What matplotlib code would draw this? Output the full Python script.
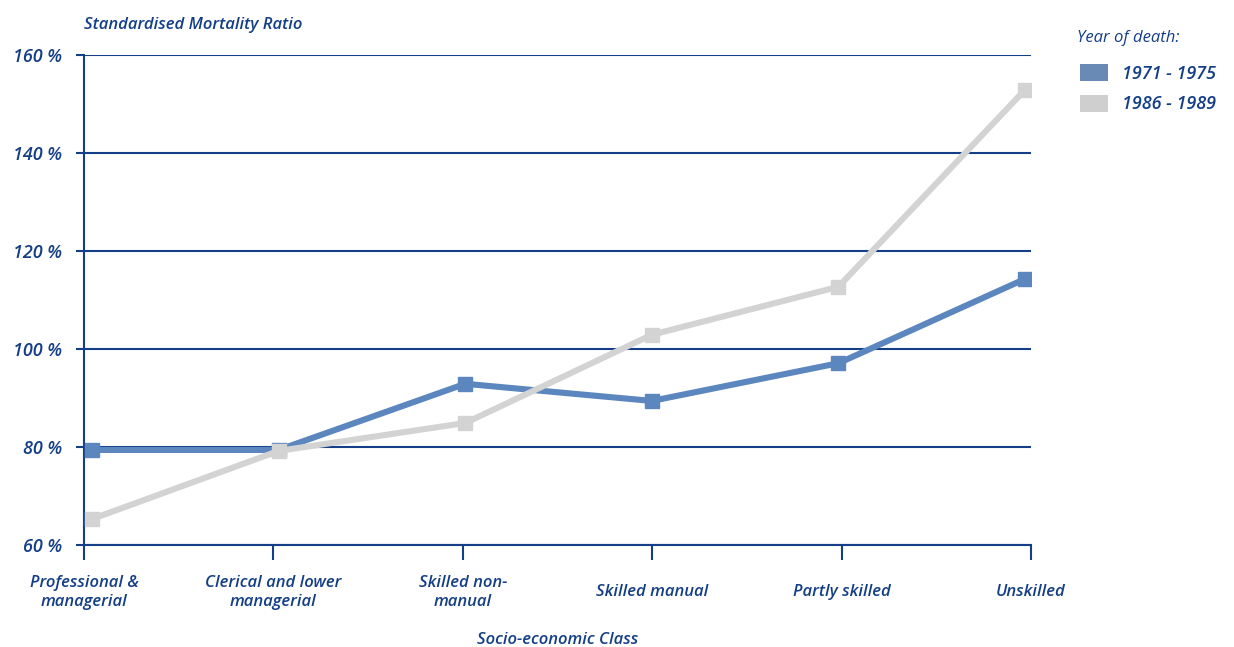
import matplotlib
matplotlib.use("Agg")
import matplotlib.pyplot as plt
from matplotlib.patches import Patch

# socio-economic classes and standardised mortality ratios (%)
classes = [
    "Professional &\nmanagerial",
    "Clerical and lower\nmanagerial",
    "Skilled non-\nmanual",
    "Skilled manual",
    "Partly skilled",
    "Unskilled",
]
smr_1971_1975 = [79.4, 79.4, 92.9, 89.4, 97.1, 114.3]
smr_1986_1989 = [65.3, 79.2, 84.9, 102.9, 112.7, 152.9]
series_labels = ["1971 - 1975", "1986 - 1989"]
y_ticks = [60, 80, 100, 120, 140, 160]

navy = "#143f87"
blue = "#5b86be"
grey = "#d3d3d3"

plt.rcParams["font.family"] = ["Open Sans", "DejaVu Sans"]
plt.rcParams["font.style"] = "italic"
plt.rcParams["font.weight"] = "semibold"
plt.rcParams["axes.titleweight"] = "semibold"
plt.rcParams["axes.labelweight"] = "semibold"

fig = plt.figure(figsize=(12.34, 6.47), dpi=100)
ax = fig.add_axes([84 / 1234, 1 - 545 / 647, (1031 - 84) / 1234, (545 - 55) / 647])

x = list(range(len(classes)))
ax.plot(x, smr_1971_1975, color=blue, lw=4.4, marker="s", ms=9.8,
        solid_joinstyle="miter", zorder=3)
ax.plot(x, smr_1986_1989, color=grey, lw=4.4, marker="s", ms=9.8,
        solid_joinstyle="miter", zorder=4)

left, right = -0.043, 5.032
ax.set_xlim(left, right)
ax.set_ylim(60, 160)

# category ticks spread evenly across the axis
step = (right - left) / (len(classes) - 1)
ax.set_xticks([left + i * step for i in x])
ax.set_xticklabels(classes, fontsize=12, color=navy, linespacing=1.25)
for lbl in ax.get_xticklabels():
    lbl.set_va("center")
ax.tick_params(axis="x", length=11, width=1.5, color=navy, pad=23)

ax.set_yticks(y_ticks)
ax.set_yticklabels([f"{v} %" for v in y_ticks], fontsize=13, color=navy)
ax.tick_params(axis="y", length=6, width=1.5, color=navy, pad=10)

ax.grid(axis="y", color=navy, lw=1.5, zorder=1)
ax.set_axisbelow(True)
for side in ["top", "right"]:
    ax.spines[side].set_visible(False)
for side in ["left", "bottom"]:
    ax.spines[side].set_color(navy)
    ax.spines[side].set_linewidth(1.5)

ax.set_title("Standardised Mortality Ratio", loc="left", fontsize=12,
             color=navy, pad=19)
ax.set_xlabel("Socio-economic Class", fontsize=12, color=navy, labelpad=16)

# legend: title as plain text, entries as patches below it
fig.text(1077 / 1234, 1 - 38 / 647, "Year of death:", fontsize=12,
         fontweight="normal", color=navy, va="center", ha="left")
handles = [Patch(facecolor="#6a8ab6", edgecolor="none"),
           Patch(facecolor="#cfcfcf", edgecolor="none")]
leg = fig.legend(handles, series_labels, loc="upper left",
                 bbox_to_anchor=(1080 / 1234, 1 - 64 / 647),
                 frameon=False, fontsize=13, borderpad=0, borderaxespad=0,
                 handlelength=1.55, handleheight=1.1,
                 handletextpad=0.8, labelspacing=0.65)
for t in leg.get_texts():
    t.set_color(navy)

fig.savefig("out.png", dpi=100)
